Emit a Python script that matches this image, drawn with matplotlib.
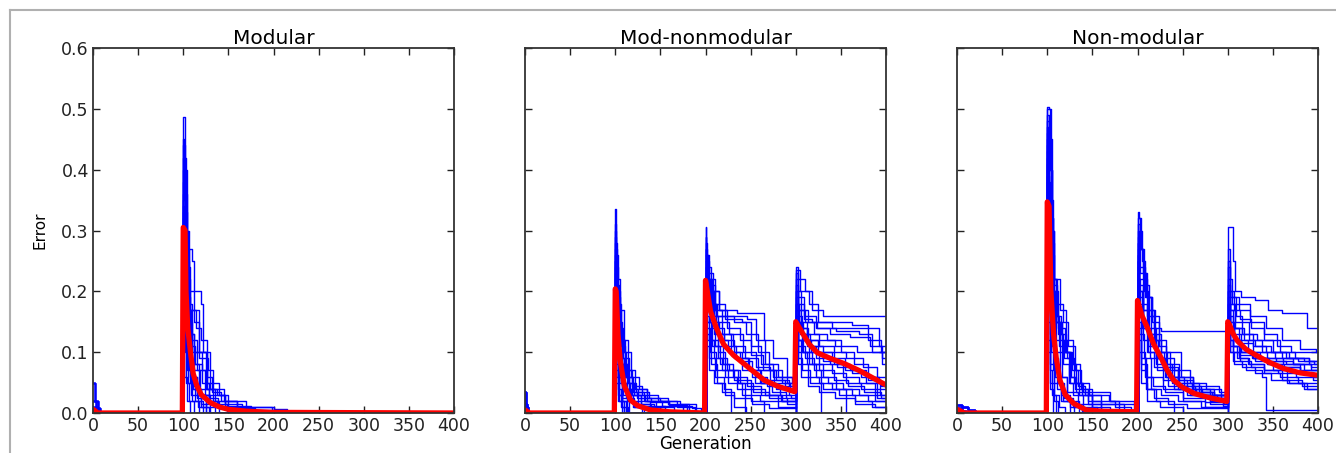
import matplotlib
matplotlib.use("Agg")
import matplotlib.pyplot as plt
from matplotlib.lines import Line2D

# panel titles
titles = ["Modular", "Mod-nonmodular", "Non-modular"]
gen_ticks = [0, 50, 100, 150, 200, 250, 300, 350, 400]
err_ticks = [0.0, 0.1, 0.2, 0.3, 0.4, 0.5, 0.6]

# mean error (red)
mod_mean_gen = [0, 2, 5, 99, 100, 102, 103, 105, 108, 111, 115, 120, 130, 140, 150, 170, 200, 400]
mod_mean_err = [0.006, 0.004, 0.0, 0.0, 0.305, 0.30, 0.2, 0.14, 0.10, 0.065, 0.045, 0.03, 0.017,
                0.01, 0.006, 0.003, 0.001, 0.0]

mix_mean_gen = [0, 2, 5, 99, 100, 101, 103, 105.5, 110, 117, 125, 139, 160, 199, 200, 202, 205.6,
                212, 220, 231, 242.6, 255, 265, 280, 299, 300, 302, 308, 315, 324, 338, 354, 370,
                385, 400]
mix_mean_err = [0.005, 0.003, 0.0, 0.0, 0.204, 0.2, 0.13, 0.086, 0.045, 0.021, 0.012, 0.005, 0.002,
                0.0, 0.218, 0.2, 0.167, 0.14, 0.113, 0.095, 0.081, 0.066, 0.054, 0.044, 0.035, 0.15,
                0.145, 0.13, 0.113, 0.099, 0.09, 0.081, 0.07, 0.058, 0.046]

non_mean_gen = [0, 3, 8, 99, 100, 102, 104, 107, 110, 114, 120, 129, 143, 160, 199, 200, 201, 205,
                211, 218, 226, 233, 240, 250, 263, 280, 299, 300, 302, 306, 311, 320, 329, 345, 362,
                380, 400]
non_mean_err = [0.006, 0.004, 0.0, 0.0, 0.347, 0.34, 0.2, 0.13, 0.09, 0.054, 0.03, 0.016, 0.005,
                0.003, 0.002, 0.185, 0.18, 0.16, 0.14, 0.113, 0.091, 0.07, 0.054, 0.042, 0.032,
                0.025, 0.019, 0.15, 0.145, 0.13, 0.118, 0.105, 0.097, 0.084, 0.073, 0.066, 0.062]

# individual runs (blue): (generation, error) breakpoints, drawn as steps
mod_start = [[(0, 0.05), (2, 0.02), (5, 0.0)], [(0, 0.02), (3, 0.008), (8, 0.0)],
             [(0, 0.01), (4, 0.0)]]
mod_runs_100 = [
    [(100, 0.487), (102, 0.40), (104, 0.27), (106, 0.15), (110, 0.08), (118, 0.03), (130, 0.01), (150, 0.0)],
    [(100, 0.42), (103, 0.27), (110, 0.25), (112, 0.2), (120, 0.18), (122, 0.1), (130, 0.04), (145, 0.02), (160, 0.0)],
    [(100, 0.38), (102, 0.30), (105, 0.22), (108, 0.17), (117, 0.10), (126, 0.05), (140, 0.03), (150, 0.01), (200, 0.006), (215, 0.0)],
    [(100, 0.35), (102, 0.2), (105, 0.13), (112, 0.1), (125, 0.04), (135, 0.02), (170, 0.01), (198, 0.0)],
    [(100, 0.33), (101, 0.22), (104, 0.12), (108, 0.06), (115, 0.03), (125, 0.0)],
    [(100, 0.30), (102, 0.19), (107, 0.17), (114, 0.14), (120, 0.12), (126, 0.06), (132, 0.035), (142, 0.02), (160, 0.008), (180, 0.0)],
    [(100, 0.28), (103, 0.15), (106, 0.08), (111, 0.04), (120, 0.015), (135, 0.0)],
    [(100, 0.26), (102, 0.10), (105, 0.05), (110, 0.02), (118, 0.0)],
    [(100, 0.24), (101, 0.14), (104, 0.07), (109, 0.03), (116, 0.01), (130, 0.0)],
    [(100, 0.36), (102, 0.25), (106, 0.2), (112, 0.15), (118, 0.09), (127, 0.07), (133, 0.03), (146, 0.012), (175, 0.005), (200, 0.0)],
    [(100, 0.22), (101, 0.06), (104, 0.02), (108, 0.0)],
    [(100, 0.31), (102, 0.16), (106, 0.11), (113, 0.08), (121, 0.05), (128, 0.025), (138, 0.01), (152, 0.004), (190, 0.0)],
    [(100, 0.45), (101, 0.35), (103, 0.22), (105, 0.12), (109, 0.06), (115, 0.025), (125, 0.0)],
    [(100, 0.40), (102, 0.33), (104, 0.24), (107, 0.13), (112, 0.07), (119, 0.04), (128, 0.02), (140, 0.0)],
    [(100, 0.34), (101, 0.26), (103, 0.18), (106, 0.09), (110, 0.04), (120, 0.01), (128, 0.0)],
    [(100, 0.29), (101, 0.2), (103, 0.12), (106, 0.07), (111, 0.045), (118, 0.03), (128, 0.02), (137, 0.01), (150, 0.0)],
    [(100, 0.27), (101, 0.18), (104, 0.1), (107, 0.05), (113, 0.02), (122, 0.0)],
    [(100, 0.32), (102, 0.22), (105, 0.17), (109, 0.12), (115, 0.1), (121, 0.07), (126, 0.04), (137, 0.03), (146, 0.015), (165, 0.0)],
    [(100, 0.25), (101, 0.12), (103, 0.05), (106, 0.02), (112, 0.0)],
    [(100, 0.44), (102, 0.36), (104, 0.3), (106, 0.18), (110, 0.1), (115, 0.07), (124, 0.03), (133, 0.015), (148, 0.0)],
]

mix_start = [[(0, 0.035), (1, 0.01), (3, 0.0)], [(0, 0.015), (2, 0.0)]]
mix_runs_100 = [
    [(100, 0.336), (101, 0.26), (103, 0.15), (107, 0.08), (113, 0.04), (125, 0.015), (140, 0.0)],
    [(100, 0.28), (102, 0.22), (105, 0.17), (110, 0.1), (118, 0.06), (126, 0.04), (135, 0.025), (150, 0.02), (172, 0.015), (190, 0.0)],
    [(100, 0.25), (102, 0.18), (106, 0.12), (114, 0.07), (122, 0.04), (135, 0.02), (160, 0.012), (185, 0.008), (195, 0.0)],
    [(100, 0.22), (101, 0.12), (104, 0.06), (109, 0.03), (120, 0.01), (130, 0.0)],
    [(100, 0.20), (102, 0.14), (107, 0.1), (112, 0.06), (120, 0.035), (132, 0.02), (145, 0.01), (165, 0.0)],
    [(100, 0.18), (101, 0.08), (104, 0.03), (108, 0.0)],
    [(100, 0.24), (102, 0.16), (104, 0.09), (110, 0.05), (116, 0.03), (128, 0.012), (155, 0.0)],
    [(100, 0.15), (101, 0.05), (103, 0.02), (112, 0.0)],
    [(100, 0.30), (101, 0.2), (103, 0.11), (108, 0.06), (115, 0.035), (124, 0.025), (140, 0.018), (160, 0.013), (180, 0.0)],
    [(100, 0.21), (101, 0.1), (103, 0.04), (106, 0.01), (110, 0.0)],
    [(100, 0.27), (102, 0.2), (105, 0.12), (111, 0.07), (119, 0.045), (130, 0.03), (147, 0.02), (168, 0.01), (188, 0.0)],
    [(100, 0.19), (101, 0.09), (104, 0.05), (108, 0.02), (115, 0.0)],
    [(100, 0.26), (101, 0.17), (103, 0.09), (106, 0.05), (112, 0.025), (121, 0.01), (132, 0.0)],
    [(100, 0.23), (102, 0.15), (105, 0.08), (109, 0.04), (117, 0.02), (138, 0.01), (150, 0.0)],
    [(100, 0.17), (101, 0.07), (103, 0.03), (107, 0.01), (114, 0.0)],
    [(100, 0.29), (101, 0.21), (104, 0.13), (108, 0.08), (114, 0.05), (121, 0.03), (133, 0.02), (152, 0.012), (175, 0.0)],
    [(100, 0.16), (101, 0.06), (104, 0.02), (110, 0.0)],
    [(100, 0.25), (102, 0.19), (105, 0.14), (109, 0.09), (115, 0.05), (123, 0.035), (137, 0.025), (158, 0.015), (182, 0.0)],
    [(100, 0.2), (101, 0.11), (103, 0.06), (107, 0.025), (113, 0.0)],
    [(100, 0.31), (101, 0.24), (103, 0.17), (106, 0.11), (111, 0.06), (119, 0.03), (128, 0.015), (143, 0.0)],
]
mix_runs_200 = [
    [(200, 0.305), (201, 0.26), (204, 0.22), (210, 0.17), (218, 0.16), (232, 0.15), (245, 0.13), (258, 0.1), (270, 0.07), (285, 0.05), (299, 0.04)],
    [(200, 0.28), (202, 0.24), (206, 0.2), (215, 0.17), (235, 0.165), (265, 0.12), (275, 0.09), (290, 0.06)],
    [(200, 0.26), (203, 0.2), (208, 0.15), (215, 0.12), (225, 0.1), (240, 0.07), (255, 0.05), (270, 0.03), (285, 0.02)],
    [(200, 0.24), (202, 0.18), (207, 0.14), (214, 0.1), (222, 0.06), (235, 0.04), (250, 0.02), (265, 0.0)],
    [(200, 0.22), (202, 0.17), (209, 0.13), (220, 0.12), (232, 0.09), (248, 0.07), (262, 0.05), (278, 0.04), (292, 0.03)],
    [(200, 0.20), (201, 0.14), (205, 0.1), (212, 0.07), (225, 0.05), (240, 0.03), (260, 0.02), (280, 0.01)],
    [(200, 0.25), (203, 0.21), (210, 0.18), (222, 0.155), (240, 0.15), (250, 0.11), (262, 0.08), (275, 0.06), (290, 0.05)],
    [(200, 0.18), (202, 0.12), (206, 0.08), (213, 0.05), (222, 0.03), (232, 0.01), (245, 0.0)],
    [(200, 0.23), (202, 0.19), (206, 0.16), (214, 0.13), (228, 0.1), (238, 0.085), (252, 0.06), (268, 0.045), (283, 0.03), (295, 0.025)],
    [(200, 0.27), (201, 0.22), (205, 0.18), (212, 0.15), (226, 0.13), (242, 0.1), (256, 0.075), (272, 0.055), (288, 0.045)],
    [(200, 0.21), (202, 0.15), (207, 0.11), (216, 0.08), (230, 0.06), (246, 0.045), (262, 0.03), (280, 0.02)],
    [(200, 0.19), (201, 0.13), (204, 0.09), (210, 0.06), (220, 0.04), (228, 0.0)],
    [(200, 0.29), (201, 0.25), (204, 0.2), (209, 0.16), (218, 0.13), (230, 0.11), (244, 0.09), (258, 0.07), (276, 0.05), (294, 0.04)],
    [(200, 0.24), (202, 0.2), (205, 0.15), (211, 0.11), (219, 0.08), (226, 0.07), (238, 0.05), (253, 0.035), (270, 0.025), (290, 0.015)],
    [(200, 0.22), (201, 0.16), (204, 0.12), (209, 0.09), (218, 0.07), (232, 0.055), (250, 0.04), (266, 0.03), (284, 0.02)],
    [(200, 0.26), (202, 0.22), (207, 0.18), (213, 0.16), (228, 0.16), (246, 0.155), (256, 0.12), (266, 0.08), (280, 0.06), (296, 0.05)],
    [(200, 0.2), (201, 0.15), (206, 0.12), (214, 0.09), (224, 0.07), (236, 0.05), (244, 0.0)],
    [(200, 0.25), (202, 0.2), (206, 0.17), (212, 0.14), (220, 0.11), (234, 0.09), (247, 0.07), (260, 0.05), (274, 0.035), (289, 0.025)],
    [(200, 0.17), (201, 0.11), (204, 0.07), (209, 0.05), (218, 0.035), (232, 0.025), (251, 0.015), (270, 0.008)],
    [(200, 0.27), (202, 0.23), (208, 0.2), (215, 0.17), (224, 0.14), (238, 0.12), (250, 0.095), (264, 0.07), (278, 0.055), (293, 0.045)],
]
mix_runs_300 = [
    [(300, 0.24), (302, 0.22), (310, 0.2), (318, 0.17), (330, 0.16)],
    [(300, 0.235), (305, 0.2), (315, 0.18), (325, 0.15), (340, 0.14), (360, 0.14), (380, 0.12), (395, 0.1)],
    [(300, 0.2), (303, 0.17), (310, 0.15), (320, 0.13), (335, 0.12), (350, 0.1), (365, 0.08), (380, 0.06), (392, 0.05)],
    [(300, 0.18), (304, 0.14), (312, 0.11), (322, 0.09), (338, 0.08), (352, 0.06), (370, 0.05), (388, 0.03)],
    [(300, 0.16), (302, 0.12), (308, 0.1), (318, 0.08), (330, 0.06), (345, 0.04), (362, 0.03), (380, 0.02)],
    [(300, 0.14), (303, 0.11), (310, 0.09), (320, 0.07), (328, 0.0)],
    [(300, 0.22), (302, 0.19), (309, 0.16), (322, 0.14), (345, 0.135), (370, 0.13), (385, 0.1), (396, 0.08)],
    [(300, 0.12), (302, 0.09), (307, 0.07), (316, 0.05), (330, 0.04), (348, 0.03), (366, 0.02), (385, 0.01)],
    [(300, 0.15), (305, 0.13), (313, 0.12), (325, 0.1), (340, 0.09), (355, 0.07), (372, 0.06), (390, 0.04)],
    [(300, 0.19), (302, 0.16), (307, 0.13), (316, 0.11), (330, 0.1), (342, 0.08), (360, 0.07), (378, 0.05), (393, 0.03)],
    [(300, 0.13), (302, 0.1), (306, 0.08), (314, 0.06), (326, 0.05), (340, 0.04), (356, 0.0)],
    [(300, 0.17), (304, 0.15), (312, 0.13), (326, 0.12), (344, 0.11), (368, 0.1)],
    [(300, 0.23), (302, 0.2), (306, 0.17), (314, 0.15), (324, 0.14), (338, 0.13), (360, 0.125), (382, 0.11), (396, 0.09)],
    [(300, 0.17), (302, 0.14), (307, 0.12), (315, 0.1), (326, 0.08), (340, 0.065), (356, 0.05), (372, 0.04), (390, 0.025)],
    [(300, 0.14), (302, 0.12), (306, 0.1), (313, 0.08), (322, 0.06), (336, 0.05), (352, 0.04), (370, 0.03), (388, 0.02)],
    [(300, 0.21), (303, 0.18), (309, 0.155), (318, 0.15), (340, 0.15), (362, 0.145), (380, 0.14), (392, 0.11)],
    [(300, 0.11), (302, 0.08), (306, 0.06), (314, 0.045), (326, 0.035), (344, 0.025), (366, 0.015), (388, 0.01)],
    [(300, 0.18), (303, 0.15), (308, 0.12), (317, 0.1), (330, 0.085), (346, 0.075), (362, 0.065), (380, 0.055), (395, 0.045)],
    [(300, 0.15), (302, 0.12), (307, 0.1), (315, 0.08), (326, 0.07), (342, 0.055), (358, 0.045), (376, 0.035), (394, 0.025)],
    [(300, 0.2), (302, 0.17), (306, 0.14), (314, 0.12), (326, 0.11), (342, 0.1), (356, 0.09), (374, 0.075), (390, 0.06)],
]

non_start = [[(0, 0.013), (6, 0.01), (12, 0.005), (20, 0.0)], [(0, 0.008), (5, 0.004), (10, 0.0)]]
non_runs_100 = [
    [(100, 0.503), (102, 0.50), (104, 0.35), (106, 0.2), (109, 0.12), (114, 0.06), (122, 0.02), (135, 0.0)],
    [(100, 0.48), (103, 0.40), (105, 0.28), (108, 0.2), (112, 0.14), (120, 0.1), (125, 0.05), (135, 0.03), (150, 0.01), (170, 0.0)],
    [(100, 0.44), (102, 0.3), (105, 0.2), (110, 0.15), (116, 0.12), (122, 0.09), (130, 0.05), (140, 0.035), (170, 0.02), (180, 0.0)],
    [(100, 0.40), (101, 0.2), (104, 0.1), (108, 0.05), (115, 0.02), (125, 0.0)],
    [(100, 0.36), (102, 0.24), (106, 0.16), (113, 0.11), (119, 0.09), (126, 0.06), (131, 0.04), (150, 0.015)],
    [(100, 0.32), (101, 0.12), (103, 0.05), (107, 0.02), (112, 0.0)],
    [(100, 0.46), (102, 0.36), (104, 0.26), (107, 0.18), (112, 0.13), (118, 0.08), (124, 0.05), (128, 0.03), (140, 0.01), (155, 0.0)],
    [(100, 0.28), (101, 0.1), (103, 0.04), (106, 0.0)],
    [(100, 0.42), (102, 0.32), (106, 0.22), (111, 0.18), (117, 0.15), (123, 0.11), (131, 0.07), (137, 0.04), (145, 0.02), (160, 0.005), (178, 0.0)],
    [(100, 0.38), (101, 0.18), (103, 0.08), (107, 0.03), (113, 0.01), (120, 0.0)],
    [(100, 0.5), (103, 0.45), (105, 0.3), (108, 0.22), (114, 0.17), (121, 0.12), (129, 0.08), (136, 0.05), (146, 0.03), (168, 0.02), (196, 0.0)],
    [(100, 0.49), (102, 0.45), (104, 0.32), (106, 0.22), (110, 0.15), (116, 0.1), (124, 0.06), (132, 0.035), (145, 0.015), (160, 0.0)],
    [(100, 0.47), (101, 0.38), (103, 0.25), (106, 0.16), (110, 0.1), (116, 0.06), (122, 0.035), (134, 0.015), (150, 0.0)],
    [(100, 0.43), (101, 0.3), (103, 0.18), (105, 0.11), (109, 0.06), (115, 0.03), (125, 0.01), (140, 0.0)],
    [(100, 0.39), (102, 0.28), (105, 0.19), (108, 0.15), (114, 0.12), (119, 0.1), (126, 0.08), (132, 0.05), (138, 0.03), (150, 0.02), (175, 0.01), (193, 0.0)],
    [(100, 0.35), (101, 0.22), (103, 0.13), (106, 0.07), (111, 0.04), (118, 0.02), (130, 0.0)],
    [(100, 0.45), (102, 0.4), (105, 0.3), (107, 0.21), (111, 0.16), (115, 0.13), (121, 0.1), (127, 0.07), (134, 0.045), (142, 0.03), (160, 0.015), (185, 0.0)],
    [(100, 0.3), (101, 0.15), (103, 0.07), (105, 0.03), (110, 0.0)],
    [(100, 0.41), (101, 0.26), (104, 0.15), (107, 0.09), (112, 0.05), (119, 0.025), (128, 0.01), (138, 0.0)],
]
non_runs_200 = [
    [(200, 0.33), (202, 0.32), (204, 0.27), (207, 0.2), (212, 0.14), (220, 0.09), (230, 0.06), (245, 0.04), (265, 0.03), (299, 0.02)],
    [(200, 0.31), (203, 0.27), (206, 0.22), (210, 0.16), (218, 0.12), (226, 0.08), (238, 0.05), (260, 0.035), (285, 0.03)],
    [(200, 0.28), (202, 0.2), (206, 0.15), (212, 0.1), (222, 0.07), (234, 0.045), (255, 0.03), (280, 0.015)],
    [(200, 0.25), (201, 0.15), (204, 0.08), (210, 0.04), (220, 0.02), (240, 0.0)],
    [(200, 0.22), (203, 0.18), (210, 0.17), (218, 0.14), (226, 0.134)],
    [(200, 0.2), (202, 0.13), (207, 0.09), (215, 0.06), (228, 0.04), (250, 0.02), (275, 0.01)],
    [(200, 0.27), (203, 0.23), (209, 0.19), (216, 0.15), (224, 0.11), (232, 0.08), (246, 0.06), (262, 0.045), (290, 0.035)],
    [(200, 0.18), (201, 0.1), (204, 0.05), (210, 0.02), (225, 0.01), (250, 0.0)],
    [(200, 0.24), (202, 0.17), (206, 0.12), (214, 0.09), (228, 0.07), (245, 0.05), (268, 0.035), (285, 0.02)],
    [(200, 0.29), (202, 0.24), (208, 0.19), (215, 0.13), (221, 0.09), (240, 0.07), (258, 0.05), (276, 0.04), (292, 0.03)],
    [(200, 0.26), (202, 0.21), (206, 0.17), (213, 0.12), (223, 0.1), (236, 0.06), (252, 0.045), (270, 0.03), (288, 0.025)],
    [(200, 0.32), (203, 0.3), (205, 0.25), (208, 0.21), (213, 0.17), (219, 0.13), (226, 0.1), (233, 0.075), (245, 0.055), (262, 0.04), (285, 0.03)],
    [(200, 0.26), (202, 0.2), (205, 0.14), (211, 0.1), (218, 0.075), (228, 0.055), (240, 0.04), (258, 0.03), (280, 0.02), (296, 0.015)],
    [(200, 0.23), (201, 0.16), (204, 0.1), (208, 0.06), (215, 0.04), (226, 0.03), (245, 0.02), (270, 0.01)],
    [(200, 0.3), (202, 0.27), (206, 0.23), (210, 0.19), (216, 0.16), (224, 0.12), (232, 0.1), (241, 0.1), (248, 0.06), (262, 0.04), (280, 0.03)],
    [(200, 0.19), (201, 0.12), (204, 0.07), (209, 0.04), (218, 0.025), (234, 0.015), (255, 0.008)],
    [(200, 0.28), (202, 0.22), (206, 0.17), (211, 0.13), (219, 0.1), (229, 0.075), (240, 0.055), (255, 0.04), (272, 0.03), (292, 0.025)],
    [(200, 0.21), (201, 0.14), (204, 0.09), (209, 0.06), (217, 0.045), (230, 0.035), (250, 0.025), (275, 0.018), (295, 0.012)],
    [(200, 0.25), (202, 0.19), (206, 0.14), (212, 0.11), (221, 0.08), (232, 0.06), (246, 0.045), (264, 0.035), (283, 0.025)],
]
non_runs_300 = [
    [(300, 0.306), (303, 0.305), (306, 0.25), (308, 0.2), (315, 0.19), (330, 0.185), (345, 0.17), (360, 0.165), (378, 0.165), (388, 0.14)],
    [(300, 0.25), (302, 0.2), (305, 0.18), (312, 0.17), (325, 0.15), (340, 0.13), (355, 0.11), (370, 0.1)],
    [(300, 0.2), (303, 0.17), (308, 0.14), (318, 0.12), (330, 0.11), (348, 0.1), (365, 0.09), (385, 0.085)],
    [(300, 0.17), (302, 0.14), (307, 0.12), (315, 0.1), (328, 0.09), (345, 0.08), (362, 0.075), (380, 0.07)],
    [(300, 0.15), (302, 0.12), (306, 0.1), (314, 0.085), (326, 0.075), (340, 0.065), (358, 0.06), (378, 0.05)],
    [(300, 0.13), (302, 0.1), (307, 0.08), (320, 0.07), (338, 0.06), (342, 0.005)],
    [(300, 0.19), (302, 0.16), (306, 0.14), (316, 0.13), (332, 0.12), (350, 0.1), (368, 0.09), (390, 0.08)],
    [(300, 0.14), (303, 0.11), (310, 0.09), (322, 0.08), (340, 0.07), (360, 0.055), (382, 0.045)],
    [(300, 0.22), (303, 0.19), (309, 0.16), (316, 0.15), (324, 0.12), (338, 0.1), (352, 0.09), (372, 0.08), (392, 0.07)],
    [(300, 0.16), (302, 0.13), (306, 0.11), (312, 0.095), (330, 0.085), (350, 0.07), (366, 0.05), (385, 0.04)],
    [(300, 0.18), (302, 0.15), (307, 0.13), (315, 0.115), (328, 0.1), (344, 0.09), (361, 0.08), (380, 0.065), (396, 0.06)],
    [(300, 0.27), (302, 0.22), (305, 0.19), (312, 0.18), (325, 0.16), (342, 0.14), (360, 0.12), (380, 0.105), (398, 0.1)],
    [(300, 0.2), (302, 0.17), (306, 0.14), (312, 0.12), (322, 0.1), (336, 0.09), (354, 0.085), (372, 0.08), (392, 0.075)],
    [(300, 0.15), (302, 0.12), (306, 0.1), (312, 0.09), (324, 0.08), (340, 0.07), (356, 0.065), (376, 0.06), (394, 0.055)],
    [(300, 0.24), (302, 0.2), (307, 0.17), (314, 0.155), (326, 0.14), (340, 0.12), (358, 0.1), (375, 0.09), (390, 0.085)],
    [(300, 0.12), (302, 0.1), (306, 0.085), (316, 0.075), (330, 0.065), (348, 0.055), (368, 0.05), (388, 0.04)],
    [(300, 0.18), (302, 0.15), (307, 0.12), (315, 0.1), (327, 0.09), (344, 0.08), (360, 0.075), (380, 0.065), (396, 0.06)],
    [(300, 0.16), (302, 0.13), (306, 0.11), (314, 0.1), (328, 0.09), (346, 0.085), (364, 0.08), (384, 0.07)],
    [(300, 0.21), (303, 0.18), (308, 0.15), (316, 0.13), (328, 0.11), (342, 0.1), (360, 0.09), (378, 0.085), (396, 0.08)],
]

panels = [
    (mod_start, [mod_runs_100], mod_mean_gen, mod_mean_err),
    (mix_start, [mix_runs_100, mix_runs_200, mix_runs_300], mix_mean_gen, mix_mean_err),
    (non_start, [non_runs_100, non_runs_200, non_runs_300], non_mean_gen, non_mean_err),
]

plt.rcParams['font.family'] = 'DejaVu Sans'
fig = plt.figure(figsize=(13.36, 4.53), dpi=100)

# grey frame lines (top and left) from the screenshot
fig.lines.append(Line2D([10 / 1336, 1.0], [1 - 10 / 453, 1 - 10 / 453], transform=fig.transFigure,
                        color='#b0b0b0', lw=1.5))
fig.lines.append(Line2D([10 / 1336, 10 / 1336], [0.0, 1 - 10 / 453], transform=fig.transFigure,
                        color='#b0b0b0', lw=1.5))

lefts = [93 / 1336, 525 / 1336, 957 / 1336]
for k, (starts, segs, mg, me) in enumerate(panels):
    ax = fig.add_axes([lefts[k], 40 / 453, 361 / 1336, 365 / 453])
    n_runs = len(segs[0])
    for i in range(n_runs):
        pts = list(starts[i % len(starts)])
        for seg in segs:
            pts += seg[i]
        gx = [p[0] for p in pts] + [400]
        gy = [p[1] for p in pts] + [pts[-1][1]]
        ax.plot(gx, gy, color='blue', lw=1.0, drawstyle='steps-post')
    ax.plot(mg, me, color='red', lw=3.8, solid_joinstyle='round')
    ax.set_xlim(0, 400)
    ax.set_ylim(0, 0.6)
    ax.set_xticks(gen_ticks)
    ax.set_yticks(err_ticks)
    ax.tick_params(direction='in', top=True, right=True, length=5, width=1, labelsize=12.5,
                   colors='#222222', pad=3)
    if k > 0:
        ax.set_yticklabels([])
    for s in ax.spines.values():
        s.set_linewidth(1.3)
        s.set_color('#333333')
    ax.set_title(titles[k], fontsize=14.5, pad=3)
    if k == 0:
        ax.set_ylabel('Error', fontsize=11, labelpad=10)
    if k == 1:
        ax.set_xlabel('Generation', fontsize=12, labelpad=0)

fig.savefig('out.png', dpi=100)
